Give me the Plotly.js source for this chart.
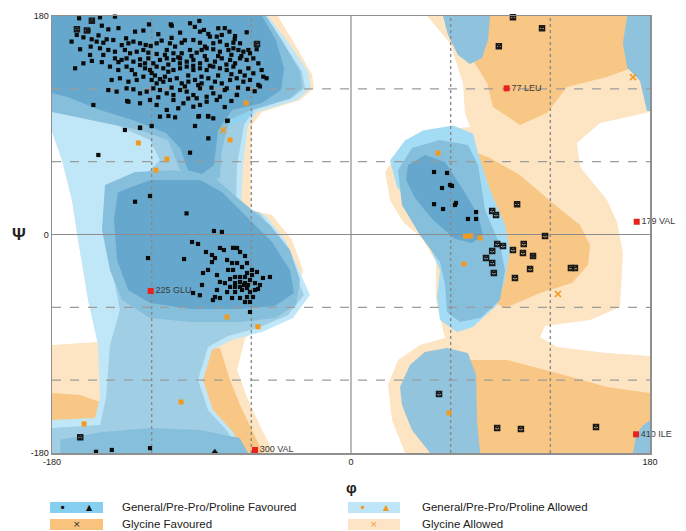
<!DOCTYPE html>
<html><head><meta charset="utf-8">
<script src="https://cdn.plot.ly/plotly-3.0.1.min.js"></script>
<style>html,body{margin:0;padding:0;background:#fff}#chart{width:686px;height:531px}</style>
</head><body><div id="chart"></div>
<script>
// ---------- axis ticks ----------
const tickVals = [-180, 0, 180];
const tickText = ['-180', '0', '180'];
const gridVals = [-120, -60, 60, 120];

// ---------- region outlines (phi, psi) ----------
const glyAllowLeft = [[-180,180],[-44,180],[-33.7,156.5],[-23.5,131.8],[-22.3,120.7],[-30.7,110.8],[-53.6,100.9],[-59.6,90.2],[-60.5,61.4],[-60.5,20.2],[-47.6,16.1],[-35.5,-4.5],[-28.9,-29.2],[-35.5,-58],[-51.8,-74.6],[-63.8,-85.3],[-68.6,-111.6],[-62,-136.3],[-53.6,-161],[-46.4,-180],[-180,-180],[-180,-91],[-152.3,-88.6],[-158.3,-54],[-164.3,-4.5],[-168,28.4],[-174,61.4],[-180,84.4]];
const glyAllowRight = [[45.8,180],[180,180],[180,100.9],[149.9,91.9],[136,75.4],[137.9,55.6],[154.1,28.4],[160.1,10.3],[163.7,-15.2],[161.9,-59.7],[143.9,-70.4],[116.8,-75.4],[113.8,-84.4],[124,-92.7],[154.1,-97.6],[180,-100.1],[180,-180],[32.5,-180],[24.7,-152.8],[22.3,-124],[28.3,-103.4],[41.5,-91],[56.6,-85.3],[51.2,-54],[51.2,-22.7],[42.7,-2.9],[31.3,10.3],[23.5,28.4],[20.5,51.5],[29.5,69.6],[53.6,86.1],[71.6,88.6],[68.6,100.1],[67.4,124.8],[59.6,157.8]];
const glyFavLeftA = [[-180,-130.5],[-163.3,-132.2],[-151.1,-137.9],[-150,-151.1],[-163.3,-154.4],[-180,-156]];
const glyFavLeftB = [[-90.9,-95.1],[-78.9,-93.5],[-72.8,-119.8],[-66.8,-140.4],[-59.6,-161],[-53,-180],[-72.8,-180],[-90.9,-136.3],[-93.9,-111.6]];
const glyFavRightTop = [[59.6,180],[166.2,180],[165,160],[168,136.7],[154.1,129.7],[130,121.5],[118,100.1],[101.7,90.2],[85.5,105],[81.9,124.8],[73.4,143.8]];
const glyFavRightMid = [[71.6,69.6],[83.7,63],[101.7,49],[122.8,24.3],[137.9,7.8],[143.9,-8.6],[142.7,-25.1],[133,-39.9],[113.8,-48.2],[92.7,-60.5],[83.7,-54],[77.7,-21],[71.6,28.4]];
const glyFavRightBot = [[71.6,-103.4],[93.9,-103.4],[124,-114.1],[154.1,-125.6],[180,-130.5],[180,-180],[76.5,-180],[75.3,-136.3]];

const genAllowLeft = [[-180,180],[-50,180],[-36.7,156.5],[-25.9,134.2],[-24.1,120.7],[-32.5,110.8],[-56.6,100.9],[-62,90.2],[-65,57.3],[-66.2,21.8],[-51.8,16.1],[-39.7,-4.5],[-31.9,-27.6],[-24.7,-49.8],[-34.9,-68.8],[-53.6,-80.3],[-71.6,-86.9],[-83.7,-95.1],[-89.1,-119.8],[-83.1,-144.5],[-71,-162.6],[-65,-180],[-180,-180],[-180,-152.8],[-154.1,-151.1],[-151.1,-134.7],[-152.3,-91],[-158.3,-54],[-164.3,-4.5],[-168,28.4],[-174,61.4],[-180,84.4]];
const genMidLeft = [[-180,180],[-52.4,180],[-40.3,156.5],[-29.5,134.2],[-27.7,120.7],[-35.5,112.5],[-58.4,102.6],[-64.4,90.2],[-68.6,57.3],[-69.2,24.3],[-54.8,17.8],[-42.7,-4.5],[-34.9,-27.6],[-28.3,-49.8],[-37.9,-66.3],[-56,-77],[-74,-83.6],[-86.1,-92.7],[-92.1,-119.8],[-86.1,-144.5],[-74,-162.6],[-68,-180],[-180,-180],[-180,-159.4],[-151.1,-156.9],[-147.5,-134.7],[-145.1,-91],[-139.1,-62.2],[-143.9,-29.2],[-148.1,3.7],[-143.9,24.3],[-127,44.9],[-115,61.4],[-121,77.8],[-151.1,96],[-180,104.2]];
const betaBand = [[-157.1,110.8],[-133,102.6],[-109,94.3],[-85,94.3],[-67,102.6],[-58.4,100.9],[-64.4,94.3],[-82,86],[-106,82],[-127,86],[-151,94.3],[-163,102.6]];
const betaMid = [[-180,180],[-51.2,180],[-40.9,158.5],[-30.7,134.2],[-29.5,120.7],[-37.3,111.7],[-60.2,102.6],[-73.4,94.3],[-77.7,69.6],[-78.9,46.5],[-92.1,43.2],[-102.9,53],[-110.2,77.8],[-127,86],[-151.1,92.7],[-180,101]];
const betaDark = [[-180,180],[-53.6,180],[-45.2,160.2],[-40.3,137.1],[-42.1,119],[-53.6,108.3],[-71.6,102.6],[-80,86],[-82.5,57.3],[-89.7,49.8],[-98.1,53],[-102.9,71.3],[-111.4,83.6],[-131.5,94.3],[-151.1,102.6],[-171,113.5],[-180,116.3]];
const alphaMid = [[-148.1,40.8],[-130,51.5],[-106,53],[-81.9,46.5],[-66.8,28.4],[-48.8,7.8],[-36.7,-12.8],[-30.7,-37.5],[-33.1,-58],[-45.8,-68.8],[-66.8,-72.1],[-96.9,-72.1],[-121,-68.8],[-137.9,-54],[-145.1,-29.2],[-149.9,3.7]];
const alphaDark = [[-140.3,34.9],[-121,44.9],[-90.9,44.9],[-77.7,35],[-63.8,16.1],[-47.6,-6.2],[-36.7,-29.2],[-34.3,-48.2],[-45.8,-58.9],[-66.8,-61.4],[-96.9,-61.4],[-121,-56.4],[-134.2,-45.7],[-140.9,-21],[-142.7,11.9]];
const bottomBand = [[-175,-180],[-175,-169],[-151,-163],[-121,-159.4],[-91,-161],[-67,-167.6],[-62,-180]];
const lhOuter = [[23.5,61],[32.5,77.4],[43.3,85.6],[61.4,89.8],[73.4,83.2],[76.5,66.7],[83.7,36.6],[92.7,7.8],[95.7,-12.8],[92.7,-37.5],[87.9,-58],[73.4,-76.2],[63.8,-80.3],[53.6,-70.4],[51.8,-51.5],[53.6,-29.2],[47.6,-11.1],[39.7,17.8],[27.7,39.1]];
const lhMid = [[28.3,53],[36.7,71.3],[53.6,77.8],[70.4,73.7],[76.5,57.3],[80.7,20.2],[89.7,-8.6],[92.7,-29.2],[89.7,-54],[77.7,-68.8],[65.6,-72.1],[57.8,-63.9],[56.6,-41.6],[53.6,-22.7],[41.5,-0.4],[30.7,24.3]];
const lhDark = [[34.3,57.3],[44.5,65.5],[56.6,59.7],[66.8,38.3],[76.5,16.1],[79.5,-0.4],[72.8,-7],[62.6,-3.7],[49.4,11.9],[38.5,30],[33.1,44.9]];
const lowerBlob = [[29.5,-125.6],[35.5,-107.5],[44.5,-96.8],[57.8,-93.5],[70.4,-97.6],[75.3,-115.7],[75.9,-152.8],[77.7,-180],[47.6,-180],[36.7,-161],[30.7,-140.4]];
const fingerTop = [[55.4,180],[83.7,180],[82.5,160.2],[78.9,145.4],[71.6,140.5],[64.4,147.9],[58.4,164.3]];
const cornerTopRight = [[166.2,180],[180,180],[180,101.7],[178.2,101.7],[174,126.5],[166.2,137.5],[163.7,157.5]];
const cornerBotRight = [[169.8,-180],[171.6,-165.4],[175.8,-157.1],[180,-153],[180,-180]];

// ---------- residues ----------
const genFavoured = [
[-163.7,178.1],[-151.1,178.9],[-142.1,179.5],[-121.6,173.1],[-108.5,173.1],[-107.9,172],[-96.9,174],[-91.3,175.9],
[-146.1,169],[-130,167.1],[-102.9,166.3],[-90.9,167.1],[-88.5,168.5],[-85.9,165.2],[-79.9,169.9],[-73.2,167.1],[-69.8,163.5],[-62.8,166.6],[-84.9,163],[-80.8,163],[-77.8,164.4],
[-168.2,158.9],[-165.1,164.4],[-161.1,162.4],[-156.1,160.8],[-153.1,158.9],[-149.1,158],[-147.1,160.8],[-143.1,160.2],[-135.4,161.6],[-134,157.5],[-131,158.9],[-127,157.5],[-123.6,156.1],[-120.6,155.3],[-117,157.5],[-114,159.7],[-109,157.5],[-105.9,154.8],[-101.9,158],[-94.9,160.2],[-90.9,158],[-87.9,154.8],[-82.9,157.5],[-78.9,158.9],[-74.8,156.1],[-70.8,158],[-66.8,157.5],[-61.8,152],
[-163.1,152.6],[-156.7,154.8],[-151.1,153.4],[-146.1,152],[-142.1,150.6],[-136.1,152],[-133,149.3],[-129,150.6],[-125,152],[-122,149.8],[-117,148.7],[-110.9,152],[-106.9,149.3],[-101.9,149.3],[-96.9,152],[-92.9,149.8],[-89.9,152],[-86.9,153.4],[-82.9,152.6],[-78.9,150.6],[-73.8,152],[-70.8,153.4],[-67.8,152],[-64.8,150.6],[-60.8,149.3],[-56.8,152.6],
[-157.1,147.9],[-149.1,147.9],[-142.1,145.1],[-138.1,143.8],[-135.1,145.1],[-131,142.4],[-127,144.3],[-122,145.1],[-119,141],[-115,143.8],[-110.9,145.1],[-106.9,143.8],[-102.9,145.1],[-98.9,142.4],[-94.9,143.8],[-90.9,141],[-86.9,143.8],[-81.9,142.4],[-77.8,145.1],[-72.8,143.8],[-69.8,141],[-66.8,145.1],[-62.8,143.8],[-58.8,145.1],[-55.8,141],[-161.1,141],[-166.1,136.9],
[-145.1,138.3],[-140.1,135.5],[-135.1,138.3],[-132,135.5],[-127,139.6],[-124,136.9],[-121,135.5],[-117,138.3],[-113,136.9],[-110,134.1],[-106.9,135.5],[-102.9,136.9],[-98.9,138.3],[-94.9,135.5],[-90.9,136.9],[-86.9,135.5],[-82.9,138.3],[-78.9,136.9],[-74.8,135.5],[-70.8,138.3],[-66.8,134.1],[-61.8,136.9],[-58.8,132.8],[-53.8,135.5],[-52.8,130],[-50.8,128.7],
[-144.1,127.3],[-139.1,128.7],[-134,125.9],[-129,127.3],[-125,130],[-120,127.3],[-117,124.5],[-113,125.9],[-109,127.3],[-104.9,128.7],[-101.9,124.5],[-97.9,125.9],[-93.9,127.3],[-89.9,124.5],[-85.9,128.7],[-81.9,125.9],[-77.8,124.5],[-72.8,127.3],[-68.8,128.7],[-64.8,125.9],[-60.8,127.3],[-55.8,123.2],
[-146.1,119],[-141.1,117.7],[-135.1,120.4],[-131,119.6],[-127,116.3],[-123,117.7],[-119,120.4],[-115,119],[-110.9,116.3],[-106.9,114.9],[-102.9,119],[-98.9,117.7],[-94.9,114.9],[-90.9,120.4],[-86.9,113.5],[-82.9,116.3],[-78.9,113.5],[-74.8,120.4],[-68.8,114.9],
[-155.1,106.7],[-134,109.4],[-127,108.1],[-121,110.8],[-117,106.7],[-110.9,102.6],[-106.9,110.8],[-100.9,108.1],[-94.9,105.3],[-90.9,106.7],[-86.9,109.4],[-80.8,110.8],[-92.9,112.2],
[-115,97.1],[-109.9,97.6],[-105.9,96.5],[-120,89.4],[-127,88.1],[-136.1,86.1],[-91.9,97.1],[-85.9,97.1],[-82.9,95.7],[-74.2,93.8],[-93.9,89.4],[-85.9,79.2],[-96.9,67.4],[-152.1,65.5],
[-118,131],[-112,130],[-98,131],[-90,130],[-80,131],[-72,132],[-64,131],[-103,141],[-95,139],[-85,139],[-75,140],[-110,140],[-120,133],[-130,132],[-115,128],[-108,121],[-100,122],[-92,123],[-84,121],[-76,119],[-68,121],[-62,120],[-58,118],[-66,147],[-72,148],[-80,147],[-88,147],[-96,147],[-104,146],[-112,148],[-124,141],[-140,142],[-150,142],[-156,143],[-138,156],[-152,164],[-158,168],[-70,161],[-76,170],[-94,171],[-100,160],[-108,162],[-116,165],[-125,168],[-140,170],[-150,172],[-72,110],[-76,105],[-98,112],[-104,104],[-116,113],
[-68.6,115],[-54.8,122],[-74.6,93.5],[-91.5,97.6],[-86.1,97.6],[-134.8,110],[-127,87.7],
[-121,31.7],[-130,27],[-99,17.4],
[-82.5,2.9],[-77.7,2.1],[-95.7,-6.2],[-92.1,-7.8],[-122.2,-19.4],[-100.5,-20.2],[-87.3,-14.4],[-83.7,-16.9],[-78.9,-11.1],[-76.5,-12.8],[-81.9,-19.4],[-83.7,-22.7],[-74.6,-21],[-71.6,-23.5],[-68.6,-11.1],[-66.8,-14.4],[-63.8,-17.7],[-68.6,-23.5],[-65.6,-26.8],[-62.6,-23.5],[-71,-29.2],[-74,-29.2],[-89.1,-31.7],[-86.1,-29.2],[-80.7,-33.4],[-62.6,-31.7],[-59.6,-33.4],[-60.8,-37.5],[-63.8,-40],[-66.8,-39.1],[-69.8,-40],[-72.8,-36.7],[-75.9,-40],[-78.9,-39.1],[-57.8,-40],[-54.8,-41.6],[-53,-35.8],[-48.8,-35],[-89.7,-41.6],[-80.7,-45.7],[-74.6,-47.4],[-69.8,-47.4],[-65.6,-45.7],[-62.6,-44.1],[-60.8,-47.4],[-57.8,-45.7],[-56,-44.9],[-81.9,-51.5],[-78.9,-52.3],[-66.8,-52.3],[-62.6,-51.5],[-95.1,-48.2],[-59,-51.5],[-63.8,-55.6],[-60.8,-55.6],[-83.1,-54],[-71.6,-52.3],[-59.6,-29.2],[-63.8,-35],[-56.6,-30.9],[-66.8,-35],[-69.8,-35],[-64.4,-41.6],[-62,-41.6],[-66.8,-43.2],[-69.8,-43.2],[-72.8,-43.2],[-71,-11],[-91,-50],[-60.8,-63.8],
[50,51.5],[57.8,50.7],[54.8,38.3],[59.6,40.8],[60.8,40],[50,25],[55.4,21],[63.2,26],[62.6,24.3],[75.3,18.5],[70.4,12.8],[75.3,12.8],
[-153.5,-179],[-144,-177.5],[-121,-176]
];
const proline = [[-82,-179]];
const glyFavoured = [[97.5,179],[115,170],[89,155],[85,19.4],[87.3,16],[100,25],[116.8,-1.2],[88,-7.8],[91.5,-9.5],[104,-7.8],[97.5,-12.8],[103.5,-15.2],[85,-13.6],[109.6,-17.7],[81.3,-19.4],[85,-23.5],[107.8,-28.4],[86,-31.7],[98.7,-35.8],[132.4,-27.6],[134.8,-27.6],[53,-131.4],[88,-159.4],[102.3,-160.2],[147.5,-158.6],[-156,176],[-165,169],[-159,168],[-56.6,157],[-163,-167]];
const genAllowed = [[-63.2,108.3],[-128,75.4],[-110.8,62.2],[-117.4,53],[-72.8,77.8],[-74.6,-68],[-56,-76],[-102.3,-138],[-160.7,-156],[52.4,67.1],[69,-1.5],[72,-1.2],[77.7,-2.9],[68,-24.3],[59,-147]];
const glyAllowed = [[-77,86],[169.8,129.7],[124.6,-49]];
const outlierPhi = [93.7, 172, -120.6, -57.8, 171.6];
const outlierPsi = [120.4, 10.5, -46.5, -177.5, -164.6];
const outlierLabel = ['77 LEU', '179 VAL', '225 GLU', '300 VAL', '410 ILE'];

const legendText = ['General/Pre-Pro/Proline Favoured', 'General/Pre-Pro/Proline Allowed', 'Glycine Favoured', 'Glycine Allowed'];

// ---------- colours ----------
const C = {
  peach:'#fde4c2', orange:'#f9c785', cyan:'#c0e7f8', bright:'#a4dcf5',
  midLight:'#a0cee5', mid:'#86bfdc', dark:'#66a8cd'
};

function fill(poly, color){
  return {type:'scatter', mode:'lines', x:poly.map(p=>p[0]), y:poly.map(p=>p[1]),
    fill:'toself', fillcolor:color, line:{width:0, color:color}, hoverinfo:'skip', showlegend:false};
}
function pts(arr, marker){
  return {type:'scatter', mode:'markers', x:arr.map(p=>p[0]), y:arr.map(p=>p[1]),
    marker:marker, hoverinfo:'skip', showlegend:false, cliponaxis:false};
}

const traces = [
  fill(glyAllowLeft, C.peach), fill(glyAllowRight, C.peach),
  fill(glyFavLeftA, C.orange), fill(glyFavLeftB, C.orange),
  fill(glyFavRightTop, C.orange), fill(glyFavRightMid, C.orange), fill(glyFavRightBot, C.orange),
  fill(genAllowLeft, C.cyan), fill(lhOuter, C.bright),
  fill(genMidLeft, C.midLight),
  fill(betaBand, '#8fd2f1'),
  fill(betaMid, C.mid), fill(alphaMid, C.mid), fill(lhMid, C.mid), fill(lowerBlob, '#92c4de'),
  fill(fingerTop, '#8fc2dc'), fill(cornerTopRight, '#8fc2dc'), fill(cornerBotRight, '#8fc2dc'),
  fill(bottomBand, C.mid),
  fill(betaDark, C.dark), fill(alphaDark, C.dark), fill(lhDark, C.dark)
];

// grid lines
gridVals.forEach(v=>{
  traces.push({type:'scatter', mode:'lines', x:[-180,180], y:[v,v], line:{color:'#9c9c9c', width:1.1, dash:'dash'}, hoverinfo:'skip', showlegend:false});
  traces.push({type:'scatter', mode:'lines', x:[v,v], y:[-180,180], line:{color:'#8a8a8a', width:1.4, dash:'dot'}, hoverinfo:'skip', showlegend:false});
});
traces.push({type:'scatter', mode:'lines', x:[-180,180], y:[0,0], line:{color:'#8c8c8c', width:1.2}, hoverinfo:'skip', showlegend:false});
traces.push({type:'scatter', mode:'lines', x:[0,0], y:[-180,180], line:{color:'#8c8c8c', width:1.2}, hoverinfo:'skip', showlegend:false});

traces.push(pts(genAllowed, {symbol:'square', size:5, color:'#f39a1e'}));
traces.push(pts(glyAllowed, {symbol:'x-thin-open', size:6, color:'#f39a1e', line:{color:'#f39a1e', width:1.6}}));
traces.push(pts(genFavoured, {symbol:'square', size:4.2, color:'#0a0a0a'}));
traces.push(pts(proline, {symbol:'triangle-up', size:6, color:'#111'}));
traces.push(pts(glyFavoured, {symbol:'square-x-open', size:5, color:'#1a1a1a', line:{color:'#1a1a1a', width:1.5}}));
traces.push({type:'scatter', mode:'markers+text', x:outlierPhi, y:outlierPsi, text:outlierLabel,
  textposition:'middle right', textfont:{family:'Liberation Sans, Arial, sans-serif', size:9, color:'#3a3a3a'},
  marker:{symbol:'square', size:6, color:'#e8211d'}, cliponaxis:false, hoverinfo:'skip', showlegend:false});

// ---------- legend (paper coords) ----------
const F = 'Liberation Sans, Arial, sans-serif';
const shapes = [
  {type:'rect', xref:'paper', yref:'paper', x0:-0.0033, x1:0.0853, y0:-0.1373, y1:-0.1121, fillcolor:'#86cff1', line:{width:0}},
  {type:'rect', xref:'paper', yref:'paper', x0:0.495, x1:0.582, y0:-0.1373, y1:-0.1121, fillcolor:'#bfe6f8', line:{width:0}},
  {type:'rect', xref:'paper', yref:'paper', x0:-0.0033, x1:0.0853, y0:-0.1762, y1:-0.151, fillcolor:'#f9c37e', line:{width:0}},
  {type:'rect', xref:'paper', yref:'paper', x0:0.495, x1:0.582, y0:-0.1762, y1:-0.151, fillcolor:'#fde4c6', line:{width:0}}
];
function note(x, y, text, font, xanchor){
  return {xref:'paper', yref:'paper', x:x, y:y, text:text, showarrow:false, xanchor:xanchor||'center', yanchor:'middle', font:font};
}
const ann = [
  note(-0.055, 0.5, '<b>Ψ</b>', {family:F, size:17, color:'#222'}),
  note(0.5, -0.08, '<b>φ</b>', {family:F, size:15, color:'#222'}),
  note(0.1137, -0.1247, legendText[0], {family:F, size:11.5, color:'#1a1a1a'}, 'left'),
  note(0.6154, -0.1247, legendText[1], {family:F, size:11.5, color:'#1a1a1a'}, 'left'),
  note(0.1137, -0.1636, legendText[2], {family:F, size:11.5, color:'#1a1a1a'}, 'left'),
  note(0.6154, -0.1636, legendText[3], {family:F, size:11.5, color:'#1a1a1a'}, 'left'),
  note(0.0184, -0.1247, '■', {family:F, size:6, color:'#111'}),
  note(0.0635, -0.1247, '▲', {family:'DejaVu Sans', size:8, color:'#111'}),
  note(0.52, -0.1247, '■', {family:F, size:6, color:'#f39a1e'}),
  note(0.5602, -0.1247, '▲', {family:'DejaVu Sans', size:8, color:'#f39a1e'}),
  note(0.0418, -0.1636, '×', {family:'DejaVu Sans', size:9, color:'#222'}),
  note(0.5385, -0.1636, '×', {family:'DejaVu Sans', size:9, color:'#f39a1e'})
];

const axisCommon = {range:[-180,180], tickvals:tickVals, ticktext:tickText, ticks:'', showgrid:false, zeroline:false,
  showline:true, mirror:true, linecolor:'#8f8f8f', linewidth:1.5, fixedrange:true,
  tickfont:{family:F, size:9, color:'#222'}};

const layout = {
  width:686, height:531, margin:{l:52, r:36, t:16, b:78},
  paper_bgcolor:'#ffffff', plot_bgcolor:'#ffffff', showlegend:false,
  xaxis:Object.assign({}, axisCommon),
  yaxis:Object.assign({}, axisCommon),
  shapes:shapes, annotations:ann
};

Plotly.newPlot('chart', traces, layout, {displayModeBar:false, staticPlot:true});
</script>
</body></html>
